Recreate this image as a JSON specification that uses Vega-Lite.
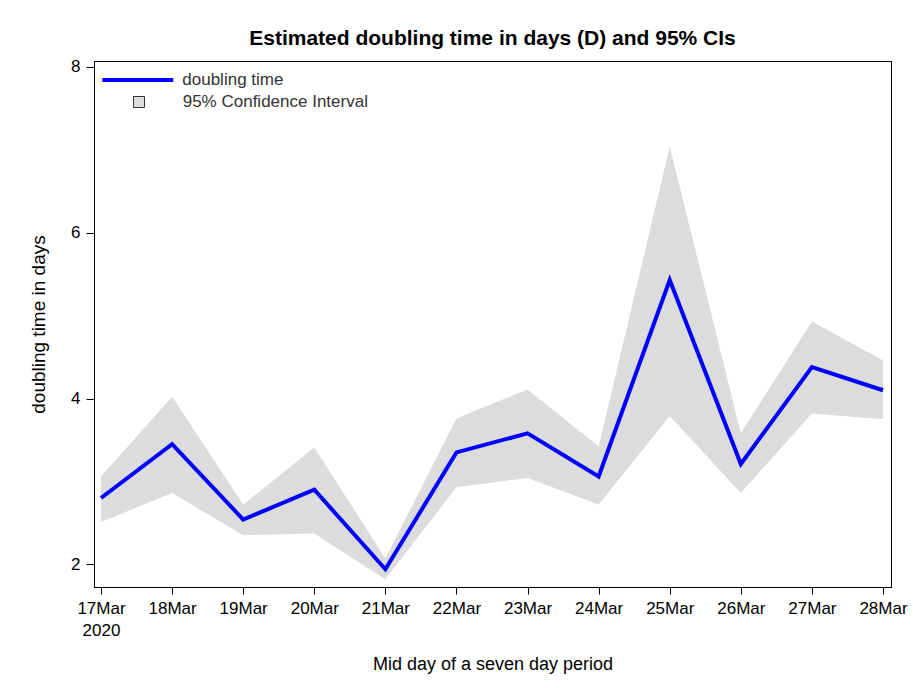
{
  "$schema": "https://vega.github.io/schema/vega-lite/v6.json",
  "autosize": {"type": "none"},
  "width": 797,
  "height": 526,
  "padding": {"left": 94, "top": 61, "right": 22, "bottom": 101},
  "background": "white",
  "title": {
    "text": "Estimated doubling time in days (D) and 95% CIs",
    "font": "Liberation Sans",
    "fontSize": 21,
    "fontWeight": "bold",
    "color": "black",
    "anchor": "middle",
    "offset": -6
  },
  "data": {
    "values": [
      {"date": "2020-03-17", "D": 2.80, "lower": 2.51, "upper": 3.06},
      {"date": "2020-03-18", "D": 3.45, "lower": 2.86, "upper": 4.02},
      {"date": "2020-03-19", "D": 2.54, "lower": 2.35, "upper": 2.72},
      {"date": "2020-03-20", "D": 2.90, "lower": 2.37, "upper": 3.41},
      {"date": "2020-03-21", "D": 1.94, "lower": 1.82, "upper": 2.07},
      {"date": "2020-03-22", "D": 3.35, "lower": 2.93, "upper": 3.76},
      {"date": "2020-03-23", "D": 3.58, "lower": 3.04, "upper": 4.11},
      {"date": "2020-03-24", "D": 3.06, "lower": 2.72, "upper": 3.42},
      {"date": "2020-03-25", "D": 5.43, "lower": 3.79, "upper": 7.04},
      {"date": "2020-03-26", "D": 3.21, "lower": 2.86, "upper": 3.58},
      {"date": "2020-03-27", "D": 4.38, "lower": 3.82, "upper": 4.93},
      {"date": "2020-03-28", "D": 4.10, "lower": 3.75, "upper": 4.46}
    ]
  },
  "encoding": {
    "x": {
      "field": "date",
      "type": "temporal",
      "title": "Mid day of a seven day period",
      "scale": {
        "type": "utc",
        "domain": [
          {"year": 2020, "month": 3, "date": 16, "hours": 21, "minutes": 38, "utc": true},
          {"year": 2020, "month": 3, "date": 28, "hours": 2, "minutes": 42, "utc": true}
        ]
      },
      "axis": {
        "values": [
          {"year": 2020, "month": 3, "date": 17, "utc": true},
          {"year": 2020, "month": 3, "date": 18, "utc": true},
          {"year": 2020, "month": 3, "date": 19, "utc": true},
          {"year": 2020, "month": 3, "date": 20, "utc": true},
          {"year": 2020, "month": 3, "date": 21, "utc": true},
          {"year": 2020, "month": 3, "date": 22, "utc": true},
          {"year": 2020, "month": 3, "date": 23, "utc": true},
          {"year": 2020, "month": 3, "date": 24, "utc": true},
          {"year": 2020, "month": 3, "date": 25, "utc": true},
          {"year": 2020, "month": 3, "date": 26, "utc": true},
          {"year": 2020, "month": 3, "date": 27, "utc": true},
          {"year": 2020, "month": 3, "date": 28, "utc": true}
        ],
        "labelExpr": "utcFormat(datum.value, '%d') == '17' ? [utcFormat(datum.value, '%d%b'), '2020'] : utcFormat(datum.value, '%d%b')",
        "labelAngle": 0,
        "labelFlush": false,
        "labelOverlap": false
      }
    }
  },
  "layer": [
    {
      "mark": {"type": "area", "opacity": 1},
      "encoding": {
        "y": {
          "field": "lower",
          "type": "quantitative",
          "title": "doubling time in days",
          "scale": {"domain": [1.726, 8.072], "nice": false, "zero": false},
          "axis": {"values": [2, 4, 6, 8], "format": "d"}
        },
        "y2": {"field": "upper"},
        "fill": {
          "datum": "95% Confidence Interval",
          "scale": {"domain": ["95% Confidence Interval"], "range": ["#dcdcdc"]},
          "legend": {
            "title": null,
            "orient": "none",
            "legendX": 36.5,
            "legendY": 32.5,
            "labelFont": "Liberation Sans",
            "labelFontSize": 17,
            "labelColor": "#333333",
            "labelLimit": 0,
            "labelOffset": 35.2,
            "symbolType": "square",
            "symbolSize": 121,
            "symbolStrokeColor": "#333333",
            "symbolStrokeWidth": 1,
            "symbolOpacity": 1
          }
        }
      }
    },
    {
      "mark": {"type": "line", "strokeWidth": 4},
      "encoding": {
        "y": {"field": "D", "type": "quantitative", "title": "doubling time in days"},
        "stroke": {
          "datum": "doubling time",
          "scale": {"domain": ["doubling time"], "range": ["#0000ff"]},
          "legend": {
            "title": null,
            "orient": "none",
            "legendX": 6.3,
            "legendY": -18.5,
            "labelFont": "Liberation Sans",
            "labelFontSize": 17,
            "labelColor": "#333333",
            "labelLimit": 0,
            "labelOffset": 7,
            "symbolType": "stroke",
            "symbolSize": 5041,
            "symbolStrokeWidth": 4,
            "symbolOpacity": 1
          }
        }
      }
    }
  ],
  "config": {
    "view": {"stroke": "black", "strokeWidth": 1},
    "axis": {
      "labelFont": "Liberation Sans",
      "labelFontSize": 17,
      "labelColor": "black",
      "titleFont": "Liberation Sans",
      "titleFontSize": 18,
      "titleFontWeight": "normal",
      "titleColor": "black",
      "domainColor": "black",
      "tickColor": "black",
      "grid": false,
      "tickSize": 8
    },
    "axisY": {"labelPadding": 6, "titlePadding": 22, "titleFontSize": 19},
    "axisX": {"tickSize": 7, "labelPadding": 6, "titlePadding": 17, "labelLineHeight": 22}
  }
}
